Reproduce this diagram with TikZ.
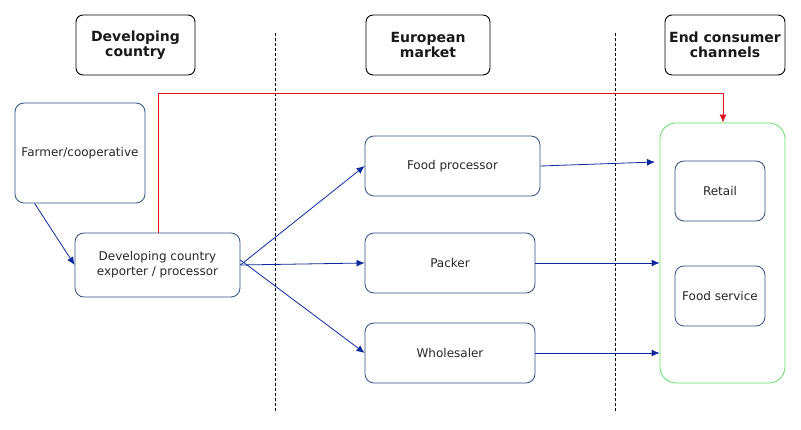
\documentclass[tikz,border=0pt]{standalone}
\usepackage{fontspec}
\setmainfont{DejaVu Sans}
\usetikzlibrary{arrows.meta}
\definecolor{boxblue}{HTML}{2F4F86}
\definecolor{arrblue}{HTML}{0F2A9E}
\definecolor{redl}{HTML}{E0141E}
\definecolor{greenl}{HTML}{66DD66}
\tikzset{
  hdr/.style={draw=black, rounded corners=7pt, line width=0.9pt, align=center, inner sep=0pt,
    font=\fontsize{14}{15.5}\selectfont\bfseries, text=black!90},
  box/.style={draw=boxblue, rounded corners=9pt, line width=0.8pt, align=center, inner sep=0pt,
    font=\fontsize{12}{15}\selectfont, text=black!85},
  flow/.style={draw=arrblue, line width=0.8pt, -{Latex[length=8pt,width=7pt]}},
  sep/.style={draw=black, densely dashed, line width=0.7pt}
}
\begin{document}
\begin{tikzpicture}[x=1pt,y=-1pt]
\useasboundingbox (0,0) rectangle (801,430);
% headers
\node[hdr, minimum width=119pt, minimum height=60pt] (h1) at (135.5,45) {Developing\\country};
\node[hdr, minimum width=124pt, minimum height=60pt] (h2) at (428,45) {European\\market};
\node[hdr, minimum width=120pt, minimum height=60pt] (h3) at (725,45) {End consumer\\channels};
% separators
\coordinate (s1a) at (275,33); \coordinate (s1b) at (275,413);
\coordinate (s2a) at (615,33); \coordinate (s2b) at (615,413);
\draw[sep] (s1a) -- (s1b);
\draw[sep] (s2a) -- (s2b);
% boxes
\node[box, minimum width=130pt, minimum height=100pt] (farm) at (80,153) {Farmer/cooperative};
\node[box, minimum width=165pt, minimum height=64pt] (exp) at (157.5,265) {Developing country\\exporter / processor};
\node[box, minimum width=175pt, minimum height=60pt] (fp) at (452.5,166) {Food processor};
\node[box, minimum width=170pt, minimum height=60pt] (pk) at (450,263) {Packer};
\node[box, minimum width=170pt, minimum height=60pt] (wh) at (450,353) {Wholesaler};
\node[draw=greenl, line width=0.8pt, rounded corners=16pt, minimum width=125pt, minimum height=260pt, inner sep=0pt] (ec) at (722.5,253) {};
\node[box, minimum width=90pt, minimum height=60pt] (rt) at (720,191) {Retail};
\node[box, minimum width=90pt, minimum height=60pt] (fs) at (720,296) {Food service};
% flows
\draw[flow] (farm.south west) ++(20,0) coordinate (f0) -- (exp.west);
\draw[flow] (exp.east) -- (fp.west);
\draw[flow] (exp.east) -- (pk.west);
\draw[flow] ([yshift=5pt]exp.east) -- (wh.west);
\coordinate (e1) at (655,162);
\draw[flow] (fp.east) -- (e1);
\draw[flow] (pk.east) -- (ec.west |- pk.east);
\draw[flow] (wh.east) -- (ec.west |- wh.east);
\draw[draw=redl, line width=0.8pt, -{Latex[length=8pt,width=7pt]}] (exp.north -| 158,0) -- (158,93) -- (723,93) -- (ec.north -| 723,0);
\end{tikzpicture}
\end{document}
